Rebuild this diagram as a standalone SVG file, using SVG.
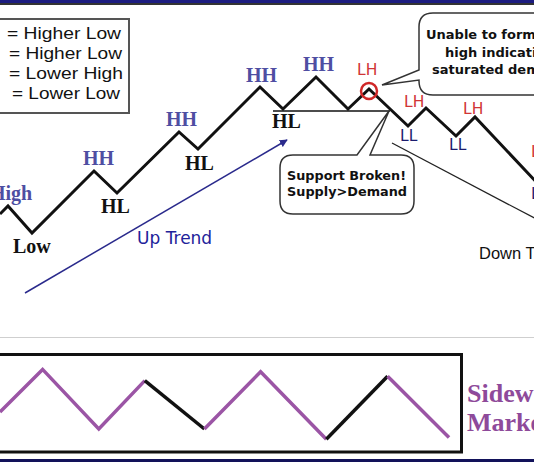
<svg xmlns="http://www.w3.org/2000/svg" width="534" height="462" viewBox="0 0 534 462">
<defs>
<marker id="ah" viewBox="0 0 10 10" refX="9" refY="5" markerWidth="8" markerHeight="8" markerUnits="userSpaceOnUse" orient="auto">
<path d="M0,0 L10,5 L0,10 z" fill="#2a2a8c"/>
</marker>
<style>
.zig{fill:none;stroke:#111;stroke-width:3;stroke-linejoin:miter}
.call{fill:#fff;stroke:#333;stroke-width:1.5}
.ser{font-family:"Liberation Serif",serif;font-weight:bold;font-size:20px}
.hh{fill:#4e4ea2}
.blk{fill:#111}
.lh{font-family:"DejaVu Sans",sans-serif;font-size:15.5px;fill:#d03535}
.ll{font-family:"DejaVu Sans",sans-serif;font-size:15.5px;fill:#1c1c6e}
.leg{font-family:"Liberation Sans",Arial,sans-serif;font-size:16.5px;fill:#111}
.cb{font-family:"DejaVu Sans",sans-serif;font-weight:bold;font-size:13px;fill:#111}
.side{fill:none;stroke:#9b55a5;stroke-width:3.5}
.sideb{fill:none;stroke:#111;stroke-width:3.5}
.st{font-family:"Liberation Serif",serif;font-weight:bold;font-size:26px;fill:#8e4a9a}
</style>
</defs>
<rect width="534" height="462" fill="#fff"/>
<rect x="0" y="0" width="534" height="3" fill="#1c1c80"/>
<rect x="0" y="3" width="534" height="2" fill="#333"/>
<line x1="0" y1="337.5" x2="534" y2="337.5" stroke="#cfcfcf" stroke-width="1"/>
<rect x="0" y="459" width="534" height="3" fill="#12125a"/>

<g id="legend">
<rect x="-3" y="19" width="132" height="94" fill="#fff" stroke="#555" stroke-width="2"/>
<text class="leg" x="7" y="38.5" textLength="114" lengthAdjust="spacingAndGlyphs">= Higher Low</text>
<text class="leg" x="9" y="58.5" textLength="113" lengthAdjust="spacingAndGlyphs">= Higher Low</text>
<text class="leg" x="9" y="78.5" textLength="114" lengthAdjust="spacingAndGlyphs">= Lower High</text>
<text class="leg" x="12" y="98.5" textLength="108" lengthAdjust="spacingAndGlyphs">= Lower Low</text>
</g>

<g id="connectors">
<polyline id="price" class="zig" points="0,214 8,206 32,233 94,171 117,193 179,132 198,149 260,87 283,109 316,77 348,109 369,89 408,126 426,108 456,136 475,117 540,186"/>
<line id="support" x1="273" y1="111" x2="390" y2="111" stroke="#111" stroke-width="1.3"/>
<line id="uptrend" x1="25" y1="293" x2="287" y2="140" stroke="#2a2a8c" stroke-width="1.5" marker-end="url(#ah)"/>
<line id="downtrend" x1="392" y1="143" x2="540" y2="221" stroke="#222" stroke-width="1.3"/>
<circle id="lhcircle" cx="369" cy="91" r="8" fill="none" stroke="#d02828" stroke-width="2.5"/>
</g>

<g id="labels">
<text class="ser hh" x="-10" y="200">High</text>
<text class="ser blk" x="13" y="253">Low</text>
<text class="ser hh" x="83" y="165">HH</text>
<text class="ser blk" x="101" y="213">HL</text>
<text class="ser hh" x="166" y="126">HH</text>
<text class="ser blk" x="185" y="170">HL</text>
<text class="ser hh" x="246" y="82">HH</text>
<text class="ser blk" x="272" y="128">HL</text>
<text class="ser hh" x="303" y="71">HH</text>
<text class="lh" x="357" y="75">LH</text>
<text class="lh" x="404" y="107">LH</text>
<text class="lh" x="463" y="114">LH</text>
<text class="ll" x="400" y="141">LL</text>
<text class="ll" x="449" y="150">LL</text>
<text class="lh" x="531" y="157">LH</text>
<text class="ll" x="531" y="199">LL</text>
<text x="137" y="244" font-family="DejaVu Sans, sans-serif" font-size="17" fill="#22229a">Up Trend</text>
<text x="479" y="259" font-family="Liberation Sans, Arial, sans-serif" font-size="16.5" fill="#111">Down T</text>
</g>

<g id="callout-top">
<path class="call" d="M433,13 H560 V95 H433 Q419,95 419,81 V80 L382,85 L419,70 V27 Q419,13 433,13 Z"/>
<text class="cb" x="426" y="39">Unable to form</text>
<text class="cb" x="445" y="57">high indicati</text>
<text class="cb" x="432" y="74">saturated dem</text>
</g>

<g id="callout-support">
<path class="call" d="M293,155 H357 L389,111 L370,155 H401 Q414,155 414,168 V201 Q414,214 401,214 H293 Q280,214 280,201 V168 Q280,155 293,155 Z"/>
<text class="cb" x="287" y="180" textLength="119" lengthAdjust="spacingAndGlyphs">Support Broken!</text>
<text class="cb" x="287" y="196" textLength="120" lengthAdjust="spacingAndGlyphs">Supply&gt;Demand</text>
</g>

<g id="sideways">
<rect x="-3" y="354.5" width="464.5" height="97.5" fill="none" stroke="#111" stroke-width="3"/>
<polyline class="side" points="0,412 42.6,369.4 98.8,429 144.8,380.6"/>
<polyline class="sideb" points="144.8,380.6 204.4,429"/>
<polyline class="side" points="204.4,429 260.6,371.8 326.3,439.2"/>
<polyline class="sideb" points="326.3,439.2 387.6,376.2"/>
<polyline class="side" points="387.6,376.2 449,437.5"/>
<text class="st" x="467" y="402">Sidew</text>
<text class="st" x="467" y="431">Marke</text>
</g>
</svg>
